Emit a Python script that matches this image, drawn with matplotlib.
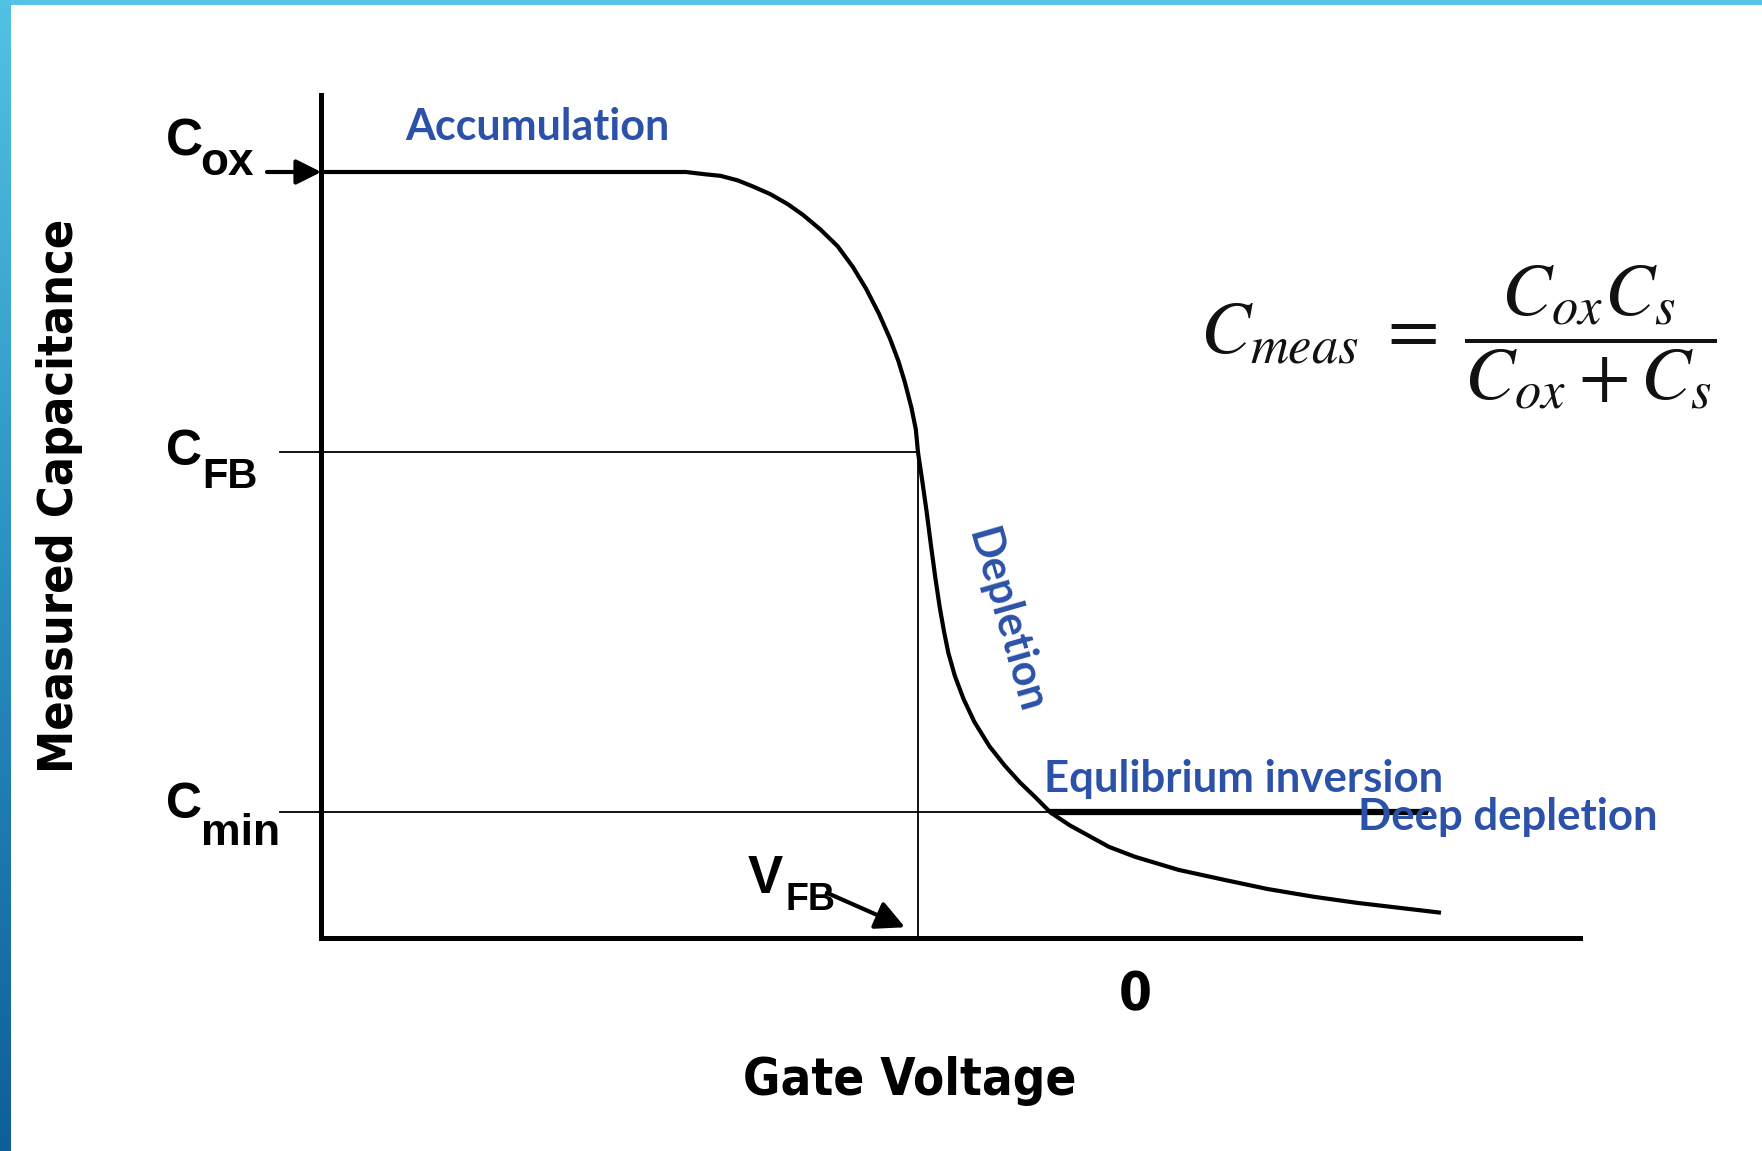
import os
import numpy as np
import matplotlib
matplotlib.use("Agg")
import matplotlib.pyplot as plt
from matplotlib import font_manager as fm
from matplotlib.colors import LinearSegmentedColormap

# ---------------- data ----------------
gate_voltage = [-3.75, -2.07, -1.98, -1.91, -1.83, -1.76, -1.68, -1.60, -1.53, -1.45,
                -1.37, -1.30, -1.24, -1.18, -1.13, -1.09, -1.06, -1.03, -1.01, -1.00,
                -0.98, -0.96, -0.94, -0.92, -0.90, -0.88, -0.86, -0.83, -0.79, -0.74,
                -0.67, -0.60, -0.53, -0.46, -0.39, -0.30, -0.21, -0.12, 0.00, 0.20,
                0.41, 0.61, 0.82, 1.02, 1.23, 1.41]
capacitance = [1.000, 1.000, 0.997, 0.995, 0.989, 0.981, 0.971, 0.958, 0.944, 0.925,
               0.903, 0.876, 0.848, 0.815, 0.783, 0.753, 0.725, 0.692, 0.664, 0.634,
               0.596, 0.556, 0.512, 0.470, 0.432, 0.400, 0.372, 0.342, 0.312, 0.282,
               0.250, 0.225, 0.203, 0.184, 0.164, 0.147, 0.133, 0.119, 0.106, 0.089,
               0.076, 0.064, 0.054, 0.046, 0.039, 0.033]

C_OX = 1.0
C_FB = 0.634
C_MIN = 0.164
V_FB = -1.0
V_ZERO = 0.0
V_LEFT = -3.75          # where the capacitance axis sits
V_RIGHT = 2.05          # end of the gate-voltage axis
C_TOP = 1.10            # top of the capacitance axis
V_GUIDE_START = -3.94   # guide lines start left of the axis
V_INV_START = -0.39     # equilibrium-inversion branch
V_INV_END = 1.35

ylabel_text = "Measured Capacitance"
xlabel_text = "Gate Voltage"
zero_label = "0"
region_labels = ["Accumulation", "Depletion", "Equlibrium inversion", "Deep depletion"]
formula = r"$C_{meas}\;=\;\dfrac{C_{ox}C_s}{C_{ox}+C_s}$"

# ---------------- figure ----------------
W, H = 1762, 1151
fig = plt.figure(figsize=(W / 100, H / 100), dpi=100)
fig.patch.set_facecolor("white")
plt.rcParams["mathtext.fontset"] = "stix"

# pixel scale of the drawing: 217 px per volt, 766 px per unit capacitance
PX_V, PX_C = 217.0, 766.0
X0, Y0 = 1135.0, 938.0  # pixel of V=0, C=0
ax = fig.add_axes([0, 0, 1, 1])
ax.set_xlim((0 - X0) / PX_V, (W - X0) / PX_V)
ax.set_ylim((Y0 - H) / PX_C, Y0 / PX_C)
ax.set_facecolor("none")
ax.set_xticks([])
ax.set_yticks([])
for s in ("top", "right"):
    ax.spines[s].set_visible(False)
ax.spines["left"].set_position(("data", V_LEFT))
ax.spines["left"].set_bounds(0, C_TOP)
ax.spines["bottom"].set_position(("data", 0))
ax.spines["bottom"].set_bounds(V_LEFT, V_RIGHT)
for s in ("left", "bottom"):
    ax.spines[s].set_linewidth(3.6)
    ax.spines[s].set_capstyle("projecting")
    ax.spines[s].set_color("black")


def fx(px):
    return px / W


def fy(py):
    return 1 - py / H


# guide lines
ax.plot([V_GUIDE_START, V_FB], [C_FB, C_FB], color="black", lw=1.3, zorder=2)
ax.plot([V_GUIDE_START, V_INV_END], [C_MIN, C_MIN], color="black", lw=1.3, zorder=2)
ax.plot([V_FB, V_FB], [0, C_FB], color="black", lw=1.3, zorder=2)
# equilibrium inversion branch
ax.plot([V_INV_START, V_INV_END], [C_MIN, C_MIN], color="black", lw=4.5,
        solid_capstyle="butt", zorder=3)
# C-V curve
ax.plot(gate_voltage, capacitance, color="black", lw=3.0, zorder=4,
        solid_joinstyle="round", solid_capstyle="butt")

# Cox arrow
ax.annotate("", xy=(V_LEFT, C_OX), xytext=(V_LEFT - 0.25, C_OX),
            arrowprops=dict(arrowstyle="-|>", color="black", lw=3,
                            mutation_scale=38, shrinkA=0, shrinkB=0))
# VFB arrow
ax.annotate("", xy=(-1.06, 0.014), xytext=(-1.42, 0.059),
            arrowprops=dict(arrowstyle="-|>", color="black", lw=3,
                            mutation_scale=44, shrinkA=0, shrinkB=0))

blk = dict(family=["Liberation Sans", "DejaVu Sans"], color="black", weight="bold")
# level labels
fig.text(fx(166), fy(155), "C", fontsize=37, va="baseline", ha="left", **blk)
fig.text(fx(200), fy(175), "ox", fontsize=33, va="baseline", ha="left", **blk)
fig.text(fx(166), fy(465), "C", fontsize=36, va="baseline", ha="left", **blk)
fig.text(fx(202), fy(488), "FB", fontsize=30, va="baseline", ha="left", **blk)
fig.text(fx(166), fy(818), "C", fontsize=36, va="baseline", ha="left", **blk)
fig.text(fx(201), fy(845), "min", fontsize=32, va="baseline", ha="left", **blk)
fig.text(fx(748), fy(893), "V", fontsize=38, va="baseline", ha="left", **blk)
fig.text(fx(786), fy(910), "FB", fontsize=27, va="baseline", ha="left", **blk)


# condensed bold face for the axis titles, if one is installed
def find_condensed():
    for key in ("LiberationSansNarrow-Bold", "ArialNarrow", "DejaVuSansCondensed-Bold",
                "NotoSans-CondensedBold", "RobotoCondensed-Bold"):
        for f in fm.fontManager.ttflist:
            if key.lower() in os.path.basename(f.fname).lower().replace(" ", ""):
                return f.fname
    return None


cond = find_condensed()
if cond:
    nar = dict(fontproperties=fm.FontProperties(fname=cond), color="black")
else:
    nar = dict(family=["Liberation Sans", "DejaVu Sans"], weight="bold", color="black")

t_y = fig.text(fx(60), fy(496), ylabel_text, rotation=90, ha="center", va="center", **nar)
t_x = fig.text(fx(910), fy(1081), xlabel_text, ha="center", va="center", **nar)
t_0 = ax.text(V_ZERO, (Y0 - 995) / PX_C, zero_label, ha="center", va="center", **nar)
t_y.set_fontsize(44)
t_x.set_fontsize(44)
t_0.set_fontsize(38)
renderer = fig.canvas.get_renderer()
# fit the titles to the length they take in the picture
hy = t_y.get_window_extent(renderer).height
wx = t_x.get_window_extent(renderer).width
fy_fit = 44 * 514 / hy
fx_fit = 44 * 308 / wx
if cond:
    t_y.set_fontsize(1.08 * fy_fit)
    t_x.set_fontsize(1.08 * fx_fit)
else:
    t_y.set_fontsize(0.75 * fy_fit + 0.25 * 44)
    t_x.set_fontsize(0.75 * fx_fit + 0.25 * 44)
    t_0.set_fontsize(34)

blue = dict(family=["Lato", "DejaVu Sans"], color="#2B52A8", weight="bold")
fig.text(fx(537), fy(127), region_labels[0], fontsize=31, ha="center", va="center", **blue)
fig.text(fx(1006), fy(621), region_labels[1], fontsize=31, rotation=-74,
         rotation_mode="anchor", ha="center", va="center", **blue)
fig.text(fx(1244), fy(779), region_labels[2], fontsize=31.5, ha="center", va="center", **blue)
fig.text(fx(1508), fy(817), region_labels[3], fontsize=31.5, ha="center", va="center", **blue)

fig.text(fx(1458), fy(338), formula, fontsize=54, ha="center", va="center", color="#111111")

# slide frame: top band and left gradient band
top = fig.add_axes([0, fy(5), 1, 5 / H])
top.set_axis_off()
top.imshow([[0, 0]], cmap=LinearSegmentedColormap.from_list("t", ["#56C4E4", "#5CCAE7"]),
           aspect="auto", extent=[0, 1, 0, 1])
left = fig.add_axes([0, 0, 11 / W, 1])
left.set_axis_off()
grad = np.linspace(0, 1, 256).reshape(-1, 1)
left.imshow(grad, cmap=LinearSegmentedColormap.from_list("l", ["#52C2E3", "#2A8FC2", "#0E5F97"]),
            aspect="auto", extent=[0, 1, 0, 1], origin="upper")

fig.savefig("out.png", dpi=100)
